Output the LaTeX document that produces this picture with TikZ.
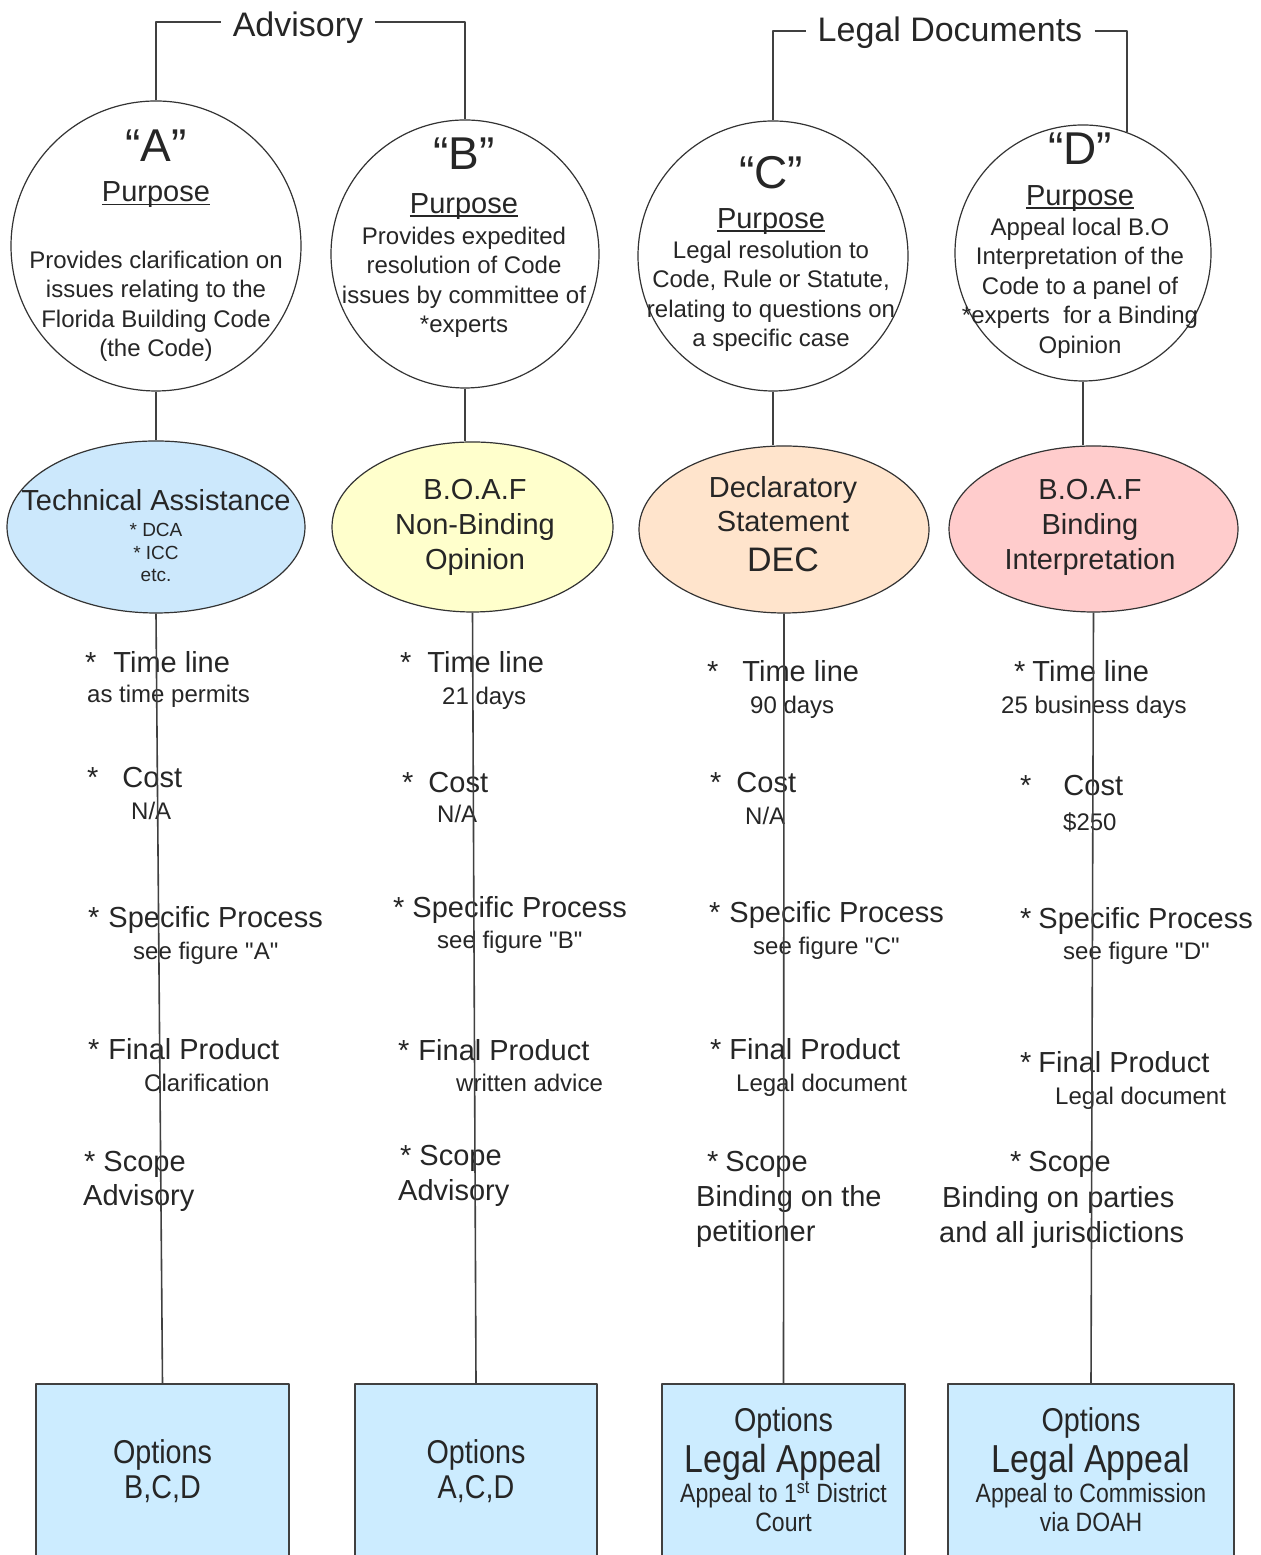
\documentclass[tikz,border=0pt]{standalone}
\usepackage{fontspec}
\setmainfont{Liberation Sans}
\newfontfamily\narrowsf[FakeStretch=0.87]{Liberation Sans}
\newfontfamily\plainquote[Ligatures=TeXOff]{Liberation Sans}
\usetikzlibrary{shapes.geometric}
\definecolor{optblue}{RGB}{204,236,255}
\definecolor{techblue}{RGB}{204,232,252}
\definecolor{boafyellow}{RGB}{255,255,204}
\definecolor{decpeach}{RGB}{255,228,204}
\definecolor{bindpink}{RGB}{255,204,204}
\newcommand{\undl}[1]{\setbox0\hbox{#1}\rlap{\rule[-3.5bp]{\wd0}{1.3bp}}\box0}
\newcommand{\dq}{{\plainquote"}}
\begin{document}
\lineskiplimit=-200bp
\begin{tikzpicture}[line join=bevel,
  purp/.style={circle,draw=black!80,line width=1.2bp,inner sep=0pt},
  kindell/.style={ellipse,draw=black!80,line width=1.2bp,inner sep=0pt},
  optbox/.style={rectangle,draw=black!75,line width=1.3bp,fill=optblue,inner sep=0pt,align=center,text=black!85,font=\narrowsf\fontsize{26.5bp}{30bp}\selectfont},
  ptext/.style={anchor=north,inner sep=0pt,align=center,text=black!85,font=\fontsize{24bp}{29.5bp}\selectfont},
  ktext/.style={anchor=north,inner sep=0pt,align=center,text=black!85,font=\fontsize{29bp}{35bp}\selectfont},
  itemhd/.style={anchor=base west,inner sep=0pt,text=black!85,font=\fontsize{29bp}{35bp}\selectfont},
  itemval/.style={anchor=base west,inner sep=0pt,text=black!85,font=\fontsize{24bp}{29bp}\selectfont},
  sectitle/.style={anchor=base,inner xsep=12bp,inner ysep=0pt,text=black!85,font=\fontsize{34bp}{40bp}\selectfont},
  wire/.style={draw=black!75,line width=1.6bp},
  ]
%%
\useasboundingbox (0bp,0bp) rectangle (1261bp,1555bp);
\clip (0bp,0bp) rectangle (1261bp,1555bp);
\fill [white] (0bp,0bp) rectangle (1261bp,1555bp);
%
\node (adv_title) at (298bp,1518bp) [sectitle] {Advisory};
\node (legal_title) at (950bp,1513bp) [sectitle] {Legal Documents};
%
\node (purp_A) at (156bp,1309bp) [purp,minimum size=290bp] {};
  \node (purp_B) at (465bp,1301bp) [purp,minimum size=268bp] {};
  \node (purp_C) at (773bp,1299bp) [purp,minimum size=270bp] {};
  \node (purp_D) at (1083bp,1302bp) [purp,minimum size=256bp] {};
\node (purp_A_txt) at (156bp,1433.3bp) [ptext] {\rule{0pt}{40bp}{\fontsize{46bp}{50bp}\selectfont “A”}\\[10.5bp]\undl{\fontsize{29bp}{35bp}\selectfont Purpose}\\[36.8bp]Provides clarification on\\issues relating to the\\Florida Building Code\\(the Code)};
  \node (purp_B_txt) at (464bp,1426bp) [ptext] {\rule{0pt}{40bp}{\fontsize{46bp}{50bp}\selectfont “B”}\\[14.5bp]\undl{\fontsize{29bp}{35bp}\selectfont Purpose}\\[1.5bp]Provides expedited\\resolution of Code\\issues by committee of\\{}*experts};
  \node (purp_C_txt) at (771bp,1407bp) [ptext] {\rule{0pt}{40bp}{\fontsize{46bp}{50bp}\selectfont “C”}\\[10.5bp]\undl{\fontsize{29bp}{35bp}\selectfont Purpose}\\[0.5bp]Legal resolution to\\Code, Rule or Statute,\\relating to questions on\\a specific case};
  \node (purp_D_txt) at (1080bp,1431bp) [ptext] {\rule{0pt}{40bp}{\fontsize{46bp}{50bp}\selectfont “D”}\\[11.5bp]\undl{\fontsize{29bp}{35bp}\selectfont Purpose}\\[0.5bp]Appeal local B.O\\Interpretation of the\\Code to a panel of\\{}*experts\ \ for a Binding\\Opinion};
%
\node (kind_A) at (156bp,1028bp) [kindell,fill=techblue,minimum width=298bp,minimum height=172bp] {};
  \node (kind_B) at (472.5bp,1028bp) [kindell,fill=boafyellow,minimum width=281bp,minimum height=170bp] {};
  \node (kind_C) at (784bp,1025.5bp) [kindell,fill=decpeach,minimum width=290bp,minimum height=167bp] {};
  \node (kind_D) at (1093.5bp,1026bp) [kindell,fill=bindpink,minimum width=289bp,minimum height=166bp] {};
\node (kind_A_txt) at (156bp,1074.3bp) [ktext] {\rule{0pt}{30bp}Technical Assistance\\[-9bp]{\fontsize{19bp}{24bp}\selectfont * DCA}\\[-12.4bp]{\fontsize{19bp}{24bp}\selectfont * ICC}\\[-13.3bp]{\fontsize{19bp}{24bp}\selectfont etc.}};
  \node (kind_B_txt) at (475bp,1085.6bp) [ktext] {\rule{0pt}{30bp}B.O.A.F\\Non-Binding\\Opinion};
  \node (kind_C_txt) at (783bp,1087.6bp) [ktext] {\rule{0pt}{30bp}Declaratory\\[-1bp]Statement\\[4.8bp]{\fontsize{34bp}{40bp}\selectfont DEC}};
  \node (kind_D_txt) at (1090bp,1085.6bp) [ktext] {\rule{0pt}{30bp}B.O.A.F\\Binding\\Interpretation};
%
\node (opt_A) at (162.5bp,84bp) [optbox,minimum width=253bp,minimum height=174bp] {\rule{0pt}{30bp}{\fontsize{33bp}{35bp}\selectfont Options}\\[5bp]{\fontsize{33bp}{35bp}\selectfont B,C,D}\rule[-9.4bp]{0pt}{9.4bp}};
  \node (opt_B) at (476bp,84bp) [optbox,minimum width=242bp,minimum height=174bp] {\rule{0pt}{30bp}{\fontsize{33bp}{35bp}\selectfont Options}\\[5bp]{\fontsize{33bp}{35bp}\selectfont A,C,D}\rule[-9.4bp]{0pt}{9.4bp}};
  \node (opt_C) at (783.5bp,84bp) [optbox,minimum width=243bp,minimum height=174bp] {\rule{0pt}{30bp}{\fontsize{33bp}{35bp}\selectfont Options}\\[10.2bp]{\fontsize{39bp}{40bp}\selectfont Legal Appeal}\\[0.3bp]Appeal to 1\textsuperscript{st} District\\[-1bp]Court\rule[-8.9bp]{0pt}{8.9bp}};
  \node (opt_D) at (1091bp,84bp) [optbox,minimum width=286bp,minimum height=174bp] {\rule{0pt}{30bp}{\fontsize{33bp}{35bp}\selectfont Options}\\[10.2bp]{\fontsize{39bp}{40bp}\selectfont Legal Appeal}\\[0.3bp]Appeal to Commission\\[-1bp]via DOAH\rule[-8.9bp]{0pt}{8.9bp}};
%
\node (time_A) at (85bp,882.7bp) [itemhd] {*\hspace{17bp}Time line};
  \node (time_A_val) at (87bp,852.3bp) [itemval] {as time permits};
  \node (cost_A) at (87bp,767bp) [itemhd] {*\hspace{24bp}Cost};
  \node (cost_A_val) at (131bp,735bp) [itemval] {N/A};
  \node (proc_A) at (88bp,627bp) [itemhd] {*\hspace{9bp}Specific Process};
  \node (proc_A_val) at (133bp,595bp) [itemval] {see figure \dq A\dq};
  \node (prod_A) at (88bp,495bp) [itemhd] {*\hspace{9bp}Final Product};
  \node (prod_A_val) at (144bp,463bp) [itemval] {Clarification};
  \node (scope_A) at (84bp,383.3bp) [itemhd] {*\hspace{8bp}Scope};
  \node (scope_A_val) at (83bp,349.3bp) [itemhd] {Advisory};
%
\node (time_B) at (400bp,882bp) [itemhd] {*\hspace{16bp}Time line};
  \node (time_B_val) at (442bp,850.1bp) [itemval] {21 days};
  \node (cost_B) at (402bp,762.8bp) [itemhd] {*\hspace{15bp}Cost};
  \node (cost_B_val) at (437bp,732.1bp) [itemval] {N/A};
  \node (proc_B) at (393bp,637bp) [itemhd] {*\hspace{8bp}Specific Process};
  \node (proc_B_val) at (437bp,606.4bp) [itemval] {see figure \dq B\dq};
  \node (prod_B) at (398bp,494.2bp) [itemhd] {*\hspace{9bp}Final Product};
  \node (prod_B_val) at (456bp,463.6bp) [itemval] {written advice};
  \node (scope_B) at (400bp,389bp) [itemhd] {*\hspace{8bp}Scope};
  \node (scope_B_val) at (398bp,354.6bp) [itemhd] {Advisory};
%
\node (time_C) at (707bp,873.8bp) [itemhd] {*\hspace{24bp}Time line};
  \node (time_C_val) at (750bp,841.9bp) [itemval] {90 days};
  \node (cost_C) at (710bp,762.8bp) [itemhd] {*\hspace{15bp}Cost};
  \node (cost_C_val) at (745bp,730.9bp) [itemval] {N/A};
  \node (proc_C) at (709bp,632.1bp) [itemhd] {*\hspace{9bp}Specific Process};
  \node (proc_C_val) at (753bp,600.3bp) [itemval] {see figure \dq C\dq};
  \node (prod_C) at (710bp,495bp) [itemhd] {*\hspace{8bp}Final Product};
  \node (prod_C_val) at (736bp,463.6bp) [itemval] {Legal document};
  \node (scope_C) at (707bp,383.2bp) [itemhd] {*\hspace{7bp}Scope};
  \node (scope_C_val) at (696bp,348.5bp) [itemhd] {Binding on the};
  \node (scope_C_val2) at (696bp,313.8bp) [itemhd] {petitioner};
%
\node (time_D) at (1014bp,873.8bp) [itemhd] {*\hspace{7bp}Time line};
  \node (time_D_val) at (1001bp,841.9bp) [itemval] {25 business days};
  \node (cost_D) at (1020bp,759.5bp) [itemhd] {*\hspace{32bp}Cost};
  \node (cost_D_val) at (1063bp,724.8bp) [itemval] {\$250};
  \node (proc_D) at (1020bp,626.8bp) [itemhd] {*\hspace{7bp}Specific Process};
  \node (proc_D_val) at (1063bp,595bp) [itemval] {see figure \dq D\dq};
  \node (prod_D) at (1020bp,482bp) [itemhd] {*\hspace{7bp}Final Product};
  \node (prod_D_val) at (1055bp,450.5bp) [itemval] {Legal document};
  \node (scope_D) at (1010bp,383.2bp) [itemhd] {*\hspace{7bp}Scope};
  \node (scope_D_val) at (942bp,347.2bp) [itemhd] {Binding on parties};
  \node (scope_D_val2) at (939bp,312.6bp) [itemhd] {and all jurisdictions};
%
\draw [wire] (purp_A) |- ([yshift=6bp]adv_title.west);
  \draw [wire] ([yshift=6bp]adv_title.east) -| (purp_B);
  \draw [wire] (purp_C) |- ([yshift=2bp]legal_title.west);
  \draw [wire] ([yshift=2bp]legal_title.east) -| (purp_D.70);
\draw [wire] (purp_A.south) -- (purp_A.south |- kind_A.north);
  \draw [wire] (purp_B.south) -- (purp_B.south |- kind_B.north);
  \draw [wire] (purp_C.south) -- (purp_C.south |- kind_C.north);
  \draw [wire] (purp_D.south) -- (purp_D.south |- kind_D.north);
\draw [wire] (kind_A.south) -- (opt_A.north);
  \draw [wire] (kind_B.south) -- (opt_B.north);
  \draw [wire] (kind_C.south) -- (opt_C.north);
  \draw [wire] (kind_D.south) -- (opt_D.north);
%
\end{tikzpicture}
\end{document}
